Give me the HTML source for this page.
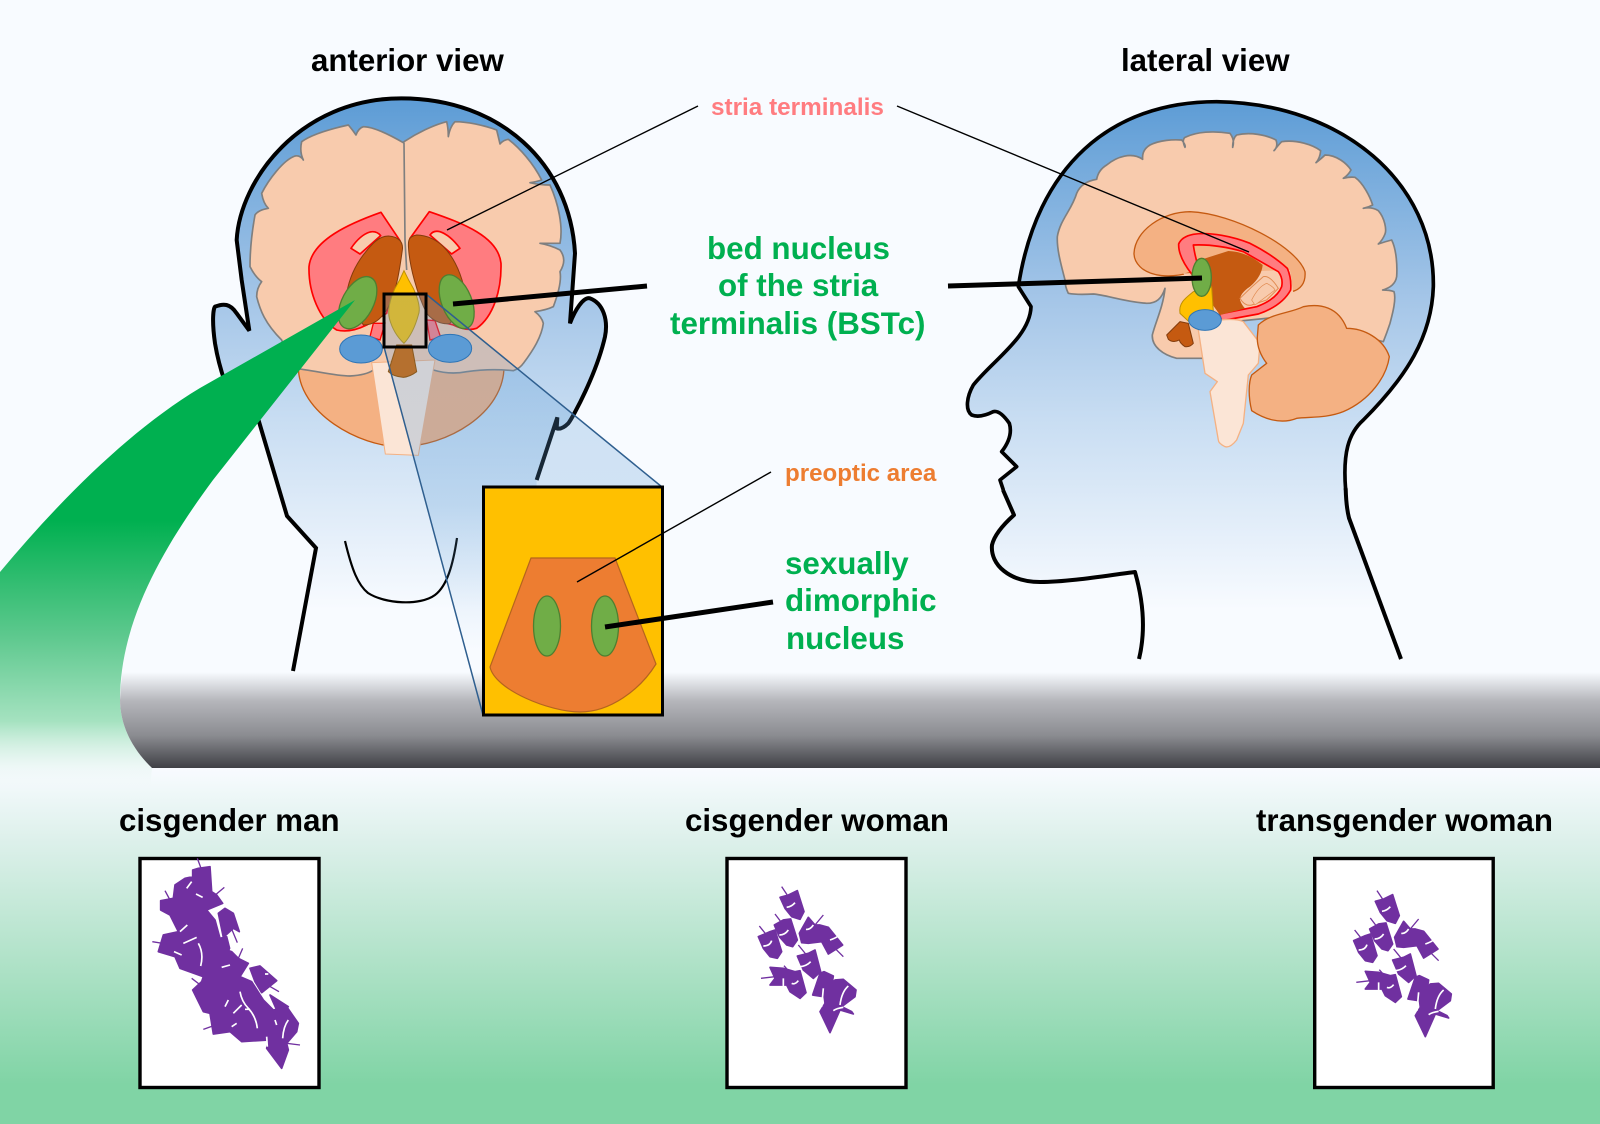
<!DOCTYPE html>
<html>
<head>
<meta charset="utf-8">
<style>
html,body{margin:0;padding:0;background:#f8fbff;}
svg{display:block;}
text{font-family:"Liberation Sans",Arial,sans-serif;font-weight:bold;}
.t{font-size:31.25px;fill:#000;}
.g{font-size:31.35px;fill:#00b050;}
</style>
</head>
<body>
<svg width="1600" height="1124" viewBox="0 0 1600 1124" xmlns="http://www.w3.org/2000/svg">
<defs>
<linearGradient id="bg" gradientUnits="userSpaceOnUse" x1="0" y1="0" x2="0" y2="1124">
<stop offset="0" stop-color="#f8fbff"/><stop offset=".684" stop-color="#f8fbff"/>
<stop offset=".75" stop-color="#dcf0ea"/><stop offset=".855" stop-color="#b0e2c8"/>
<stop offset=".965" stop-color="#80d4a5"/><stop offset="1" stop-color="#80d4a5"/>
</linearGradient>
<linearGradient id="headA" gradientUnits="userSpaceOnUse" x1="0" y1="45" x2="0" y2="1590">
<stop offset="0" stop-color="#5b9bd5"/><stop offset=".4" stop-color="#a5c6e8"/>
<stop offset=".63" stop-color="#c8ddf2"/><stop offset="1" stop-color="#f8fbff"/>
</linearGradient>
<linearGradient id="headL" gradientUnits="userSpaceOnUse" x1="0" y1="15" x2="0" y2="1560">
<stop offset="0" stop-color="#5b9bd5"/><stop offset=".4" stop-color="#a5c6e8"/>
<stop offset=".63" stop-color="#c8ddf2"/><stop offset="1" stop-color="#f8fbff"/>
</linearGradient>
<linearGradient id="band" gradientUnits="userSpaceOnUse" x1="0" y1="672" x2="0" y2="768">
<stop offset="0" stop-color="#f8fbff"/><stop offset=".3" stop-color="#b5b6bb"/>
<stop offset=".66" stop-color="#8b8c91"/><stop offset="1" stop-color="#3f4045"/>
</linearGradient>
<linearGradient id="swoosh" gradientUnits="userSpaceOnUse" x1="0" y1="300" x2="0" y2="790">
<stop offset="0" stop-color="#00b050"/><stop offset=".45" stop-color="#00b050"/>
<stop offset=".69" stop-color="#5fc98f"/><stop offset=".86" stop-color="#a5e2c0"/>
<stop offset="1" stop-color="#f0f9f6" stop-opacity="0"/>
</linearGradient>
<linearGradient id="ov" gradientUnits="userSpaceOnUse" x1="0" y1="290" x2="0" y2="650">
<stop offset="0" stop-color="#5b9bd5" stop-opacity=".28"/><stop offset=".6" stop-color="#5b9bd5" stop-opacity=".25"/>
<stop offset="1" stop-color="#5b9bd5" stop-opacity="0"/>
</linearGradient>
<g id="fem">
<g fill="#7030a0" stroke="#7030a0" stroke-width="5" stroke-linejoin="round">
<path d="M180 142 L205 135 L232 122 L252 185 L240 208 L215 200 L195 175Z"/>
<path d="M163 225 L190 210 L212 207 L232 270 L218 290 L200 285 L178 260Z"/>
<path d="M115 260 L150 245 L165 240 L185 305 L172 325 L150 320 L130 295Z"/>
<path d="M238 250 L265 202 L285 225 L300 225 L325 232 L368 285 L325 312 L305 275 L265 280 L245 278Z"/>
<path d="M232 318 L265 310 L285 300 L302 365 L280 385 L250 360Z"/>
<path d="M150 352 L190 355 L225 365 L240 362 L258 428 L240 445 L210 425 L200 405 L150 405 L165 385Z"/>
<path d="M278 435 L300 370 L312 365 L340 378 L335 410 L310 440Z"/>
<path d="M310 420 L345 390 L370 388 L408 420 L405 440 L365 470 L395 485 L400 492 L360 480 L330 548 L300 485 L315 460Z"/>
</g>
<g stroke="#7030a0" stroke-width="4" fill="none">
<path d="M185 110L205 140M165 192L190 225M118 228L145 262M310 195L285 225M325 275L370 320M235 285L262 318M123 385L165 380M192 347L205 362"/>
</g>
<g stroke="#fff" stroke-width="5" fill="none">
<path d="M200 172 Q215 170 225 158M178 255 Q195 255 205 240M130 288 Q150 288 155 272M258 238 Q270 240 280 225M330 270 Q345 265 355 258M240 350 Q260 348 272 335M190 408 L190 385M215 400 Q225 405 235 392M305 470 L310 415M360 465 Q365 425 385 408M340 482 Q350 475 370 472"/>
</g>
</g>
</defs>

<rect width="1600" height="1124" fill="url(#bg)"/>

<!-- anterior head -->
<g transform="translate(200,80) scale(.33333)">
<path fill="url(#headA)" d="M1010 1200 L1000 1650 L300 1650 L348 1404 L261 1308 L170 1005 Q160 1040 140 1030 C100 990 60 880 45 790 C35 720 40 685 45 680 C70 670 90 670 110 700 L148 752 L125 600 L110 480 C120 300 300 55 604 55 C900 55 1110 250 1125 520 L1110 730 C1125 690 1150 650 1170 655 C1210 670 1225 720 1215 770 C1190 880 1120 1010 1105 1030 Q1085 1050 1070 1045 L1072 1012Z"/>
<!-- cerebellum -->
<path fill="#f4b183" stroke="#c55a11" stroke-width="4" d="M295 860 C295 1000 480 1100 600 1100 C740 1100 912 1000 912 860Z"/>
<!-- brain -->
<path fill="#f8cbad" stroke="#7f7f7f" stroke-width="5" stroke-linejoin="round" d="M610 188 C570 165 520 140 490 140 Q475 145 468 165 Q458 150 445 135 C400 145 340 160 305 185 Q298 215 310 240 Q300 225 285 228 C250 240 205 300 185 340 Q190 370 205 385 Q175 390 165 405 C155 460 150 520 150 560 Q165 590 185 605 Q170 625 170 650 C180 690 195 730 245 780 C260 820 270 850 280 865 C340 870 400 888 450 888 Q500 885 520 870 L700 870 Q750 885 800 875 Q870 865 940 872 Q960 865 970 850 C1000 810 1025 770 1030 730 Q1025 710 1005 695 Q1040 690 1060 680 C1075 640 1085 600 1080 575 C1095 550 1095 530 1080 510 Q1050 495 1020 490 Q1060 490 1080 490 C1090 440 1075 370 1050 315 Q1020 315 990 308 Q1010 305 1025 300 C1000 250 960 205 925 178 Q910 180 900 192 Q895 170 890 150 C850 135 800 125 765 125 Q750 140 745 170 Q745 145 740 125 C700 135 650 160 612 185Z"/>
<path fill="none" stroke="#7f7f7f" stroke-width="5" d="M612 188 L615 480 L620 570"/>
<!-- brainstem -->
<path fill="#fbe5d6" stroke="#f4b183" stroke-width="3" d="M515 848 L705 840 L655 1126 L556 1122Z"/>
<!-- red -->
<path fill="#ff7c80" stroke="#ff0000" stroke-width="5" stroke-linejoin="round" d="M543 397 L600 482 L560 700 L500 735 Q450 760 410 750 C360 720 325 640 327 560 C335 480 450 430 543 397Z"/>
<path fill="#ff7c80" stroke="#ff0000" stroke-width="5" stroke-linejoin="round" d="M688 395 L630 475 L700 720 L760 735 Q800 755 830 745 C880 710 905 630 903 550 C895 470 790 430 688 395Z"/>
<path fill="#f8cbad" stroke="#ff0000" stroke-width="5" stroke-linejoin="round" d="M453 505 Q480 465 510 456 Q530 452 542 467 L480 522Z"/>
<path fill="#f8cbad" stroke="#ff0000" stroke-width="5" stroke-linejoin="round" d="M780 505 Q750 465 720 455 Q700 450 690 465 L755 522Z"/>
<path fill="#ff7c80" stroke="#ff0000" stroke-width="4" d="M520 730 L510 770 L540 780 L555 730Z"/>
<path fill="#ff7c80" stroke="#ff0000" stroke-width="4" d="M680 720 L690 780 L722 772 L705 722Z"/>
<!-- brown -->
<path fill="#c55a11" stroke="#843c0c" stroke-width="3" d="M565 468 C600 470 610 490 607 510 C600 560 590 640 560 690 C540 720 520 735 490 735 L440 640 C450 580 480 530 520 490 C535 475 550 468 565 468Z"/>
<path fill="#c55a11" stroke="#843c0c" stroke-width="3" d="M650 465 C620 470 625 490 626 510 C630 560 650 640 680 700 C700 725 730 735 750 730 L800 660 C790 600 770 540 730 500 C710 480 680 465 650 465Z"/>
<!-- yellow -->
<path fill="#ffc000" stroke="#bf9000" stroke-width="3" d="M612 572 Q625 600 640 625 Q665 680 655 705 Q640 760 612 790 Q580 760 568 715 Q560 680 585 625 Q600 600 612 572Z"/>
<!-- green left -->
<ellipse cx="473" cy="668" rx="47" ry="85" transform="rotate(28 473 668)" fill="#70ad47" stroke="#4f7f30" stroke-width="4"/>
<!-- blue left -->
<ellipse cx="483" cy="807" rx="64" ry="42" fill="#5b9bd5" stroke="#2e75b6" stroke-width="3"/>
<!-- head outline -->
<path fill="none" stroke="#000" stroke-width="12" stroke-linejoin="miter" d="M170 1005 Q160 1040 140 1030 C100 990 60 880 45 790 C35 720 40 685 45 680 C70 670 90 670 110 700 L148 752 L125 600 L110 480 C120 300 300 55 604 55 C900 55 1110 250 1125 520 L1110 730 C1125 690 1150 650 1170 655 C1210 670 1225 720 1215 770 C1190 880 1120 1010 1105 1030 Q1085 1050 1070 1045 L1072 1012 L1010 1200"/>
</g>
<path fill="none" stroke="#000" stroke-width="4" d="M257 415 L287 516 L316 548 L293 671"/>
<path fill="none" stroke="#000" stroke-width="2.2" d="M345 541 C352 570 358 585 368 593 C385 604 420 606 435 595 C447 586 453 565 457 538"/>

<!-- lateral head -->
<g transform="translate(950,90) scale(.33333)">
<path fill="url(#headL)" d="M205 590 C260 230 480 35 800 35 C1180 40 1455 280 1450 590 C1445 740 1370 860 1240 990 C1195 1030 1178 1090 1187 1200 L1197 1284 L1353 1707 L567 1707 C590 1620 580 1530 555 1446 C480 1455 360 1476 270 1476 C180 1476 120 1425 126 1365 Q135 1326 192 1275 L159 1200 L150 1170 L200 1130 L155 1085 Q190 1040 178 1000 Q150 960 130 965 Q90 985 65 975 C45 960 50 920 70 885 C130 810 240 740 243 650Z"/>
<!-- brain -->
<path fill="#f8cbad" stroke="#7f7f7f" stroke-width="5" stroke-linejoin="round" d="M440 268 Q445 240 470 225 C500 200 545 185 578 208 Q575 180 600 165 C630 150 670 148 695 150 Q708 165 705 172 Q695 150 705 142 C740 125 790 122 840 130 Q855 150 848 172 Q848 145 860 135 C900 125 950 135 978 150 Q985 170 972 182 Q985 165 995 155 C1040 148 1090 165 1112 182 Q1110 205 1098 218 Q1115 205 1125 195 C1160 195 1190 220 1203 240 Q1195 255 1180 265 Q1200 260 1215 262 C1240 280 1260 320 1268 345 Q1255 352 1240 355 Q1265 350 1285 362 C1305 385 1310 420 1305 432 Q1298 450 1285 462 Q1305 455 1325 450 C1340 480 1342 530 1340 560 Q1335 590 1298 600 Q1320 600 1332 605 C1340 630 1325 680 1320 700 Q1310 730 1300 755 L1000 680 L800 700 L760 805 L680 805 C640 795 605 770 607 735 C615 700 640 650 645 595 C635 625 620 640 590 640 C520 635 470 615 430 612 Q380 615 355 610 Q345 590 345 570 C335 530 320 480 322 440 C330 390 365 360 380 310 Q395 275 440 268Z"/>
<!-- cc -->
<path fill="#f4b183" stroke="#c55a11" stroke-width="4" stroke-linejoin="round" d="M552 490 C555 420 640 365 720 365 C850 370 1040 470 1065 545 C1068 580 1050 600 1025 605 L900 560 L720 548 C660 565 600 560 570 530 C555 515 552 500 552 490Z"/>
<path fill="#f8cbad" d="M700 550 L1020 540 L1030 610 L940 680 L800 690Z"/>
<!-- red C -->
<path fill="#ff7c80" stroke="#ff0000" stroke-width="5" stroke-linejoin="round" d="M686 462 Q695 440 730 433 C780 425 850 440 900 460 C950 485 990 515 1012 535 Q1025 565 1022 600 C1000 640 960 660 925 672 L815 692 L808 672 L920 650 C960 635 985 615 995 590 Q1000 565 985 545 L880 485 Q800 462 730 465 Q735 500 745 530 L725 552 C700 520 685 490 686 462Z"/>
<!-- thalamus -->
<path fill="#c55a11" d="M750 510 L835 483 Q890 485 938 525 Q935 560 900 590 Q870 610 870 630 Q875 645 885 655 L810 675 L785 640 L760 560Z"/>
<path fill="#f8cbad" stroke="#e08a50" stroke-width="3" d="M870 625 Q905 590 940 560 Q960 555 985 595 L950 630 L905 645 Q885 650 870 625Z"/>
<path fill="#f8cbad" stroke="#e08a50" stroke-width="2" d="M905 630 Q925 590 950 580 Q970 590 975 600 L915 645Z"/>
<!-- brainstem -->
<path fill="#fbe5d6" stroke="#f4b183" stroke-width="4" stroke-linejoin="round" d="M745 720 L810 690 Q860 685 880 695 L930 760 L925 820 L895 855 L880 1000 L860 1050 Q840 1075 825 1070 Q805 1060 805 1050 L780 905 L802 875 L765 850Z"/>
<!-- cerebellum -->
<path fill="#f4b183" stroke="#c55a11" stroke-width="4" stroke-linejoin="round" d="M925 705 C960 670 1020 670 1060 650 C1110 640 1165 650 1190 715 C1240 715 1300 745 1318 800 C1310 860 1260 930 1180 965 C1130 985 1080 980 1040 985 C990 1005 940 985 905 962 C895 920 895 880 905 855 L950 820 Q920 780 922 740Z"/>
<!-- yellow -->
<path fill="#ffc000" stroke="#bf9000" stroke-width="3" stroke-linejoin="round" d="M690 670 C685 640 705 625 730 605 L760 603 L785 590 L790 665 L720 698 Z"/>
<!-- small brown -->
<path fill="#c55a11" stroke="#843c0c" stroke-width="3" stroke-linejoin="round" d="M650 735 L690 695 L715 700 L730 760 Q720 772 705 770 Q690 760 688 750 Q670 760 655 748Z"/>
<!-- green, blue -->
<ellipse cx="755" cy="562" rx="29" ry="57" fill="#70ad47" stroke="#4f7f30" stroke-width="4"/>
<ellipse cx="765" cy="690" rx="49" ry="31" fill="#5b9bd5" stroke="#2e75b6" stroke-width="3"/>
<!-- outline -->
<path fill="none" stroke="#000" stroke-width="11" stroke-linejoin="round" d="M1187 1200 C1178 1090 1195 1030 1240 990 C1370 860 1445 740 1450 590 C1455 280 1180 40 800 35 C480 35 260 230 205 590 L243 650 C240 740 130 810 70 885 C50 920 45 960 65 975 Q90 985 130 965 Q150 960 178 1000 Q190 1040 155 1085 L200 1130 L150 1170 L160 1200"/>
</g>
<path fill="none" stroke="#000" stroke-width="4" stroke-linejoin="round" d="M1139 659 C1146 630 1143 600 1135 572 C1110 575 1070 582 1040 582 C1010 582 990 565 992 545 Q995 532 1014 515 L1003 490"/>
<path fill="none" stroke="#000" stroke-width="4" stroke-linecap="round" d="M1345.7 489 C1346 500 1347 510 1349 518"/>
<path fill="none" stroke="#000" stroke-width="4" d="M1349 518 L1401 659"/>

<!-- gray band + swoosh -->
<path fill="url(#swoosh)" d="M355 300 L200 388 C130 430 60 500 0 572 L0 790 L150 790 L152 768 C128 745 120 720 120 700 C120 620 165 545 213 480Z"/>
<path fill="url(#band)" d="M120 700 C120 720 128 745 152 768 L1600 768 L1600 672 L122.5 672 Q120.5 686 120 700Z"/>

<!-- overlay -->
<path d="M384 294 L426 294 L662 487 L483 715 L384 347Z" fill="url(#ov)"/>

<!-- parts above overlay -->
<g transform="translate(200,80) scale(.33333)">
<ellipse cx="770" cy="665" rx="45" ry="85" transform="rotate(-22 770 665)" fill="#70ad47" stroke="#4f7f30" stroke-width="4"/>
<path fill="#b5702f" stroke="#8a5a20" stroke-width="3" d="M590 795 L635 795 L650 875 Q630 890 610 892 Q580 890 565 875Z"/>
<ellipse cx="750" cy="805" rx="65" ry="42" fill="#5b9bd5" stroke="#2e75b6" stroke-width="3"/>
</g>

<path d="M426 294 L662 487 M384 347 L483 715" stroke="#2f5f8f" stroke-width="1.5" fill="none"/>
<rect x="384" y="294" width="42" height="53" fill="none" stroke="#000" stroke-width="3"/>

<!-- big box -->
<rect x="483.5" y="487" width="179" height="228" fill="#ffc000" stroke="#000" stroke-width="3"/>
<path d="M531 558 L615 558 L656 664 C640 690 610 712 580 712 C550 712 495 690 490 667Z" fill="#ed7d31" stroke="#b5651d" stroke-width="1.2"/>
<ellipse cx="547" cy="626" rx="13.5" ry="30" fill="#70ad47" stroke="#4f7f30" stroke-width="1.3"/>
<ellipse cx="605" cy="626" rx="13.5" ry="30" fill="#70ad47" stroke="#4f7f30" stroke-width="1.3"/>

<!-- leader lines -->
<g stroke="#000" fill="none">
<path stroke-width="1.4" d="M698 106 L447 230"/>
<path stroke-width="1.4" d="M897 106 L1249 252"/>
<path stroke-width="5" d="M647 286 L453 304"/>
<path stroke-width="5" d="M948 286 L1202 278"/>
<path stroke-width="1.4" d="M771 472 L577 582"/>
<path stroke-width="5" d="M773 602 L605 627"/>
</g>

<!-- labels -->
<text class="t" x="311" y="71">anterior view</text>
<text class="t" x="1121" y="71">lateral view</text>
<text x="711" y="115" font-size="24.3" fill="#ff7c80">stria terminalis</text>
<text class="g" x="707" y="259">bed nucleus</text>
<text class="g" x="718" y="296">of the stria</text>
<text class="g" x="670" y="334">terminalis (BSTc)</text>
<text x="785" y="481" font-size="24.1" fill="#ed7d31">preoptic area</text>
<text class="g" x="785" y="574">sexually</text>
<text class="g" x="785" y="611">dimorphic</text>
<text class="g" x="786" y="649">nucleus</text>
<text class="t" x="119" y="831">cisgender man</text>
<text class="t" x="685" y="831">cisgender woman</text>
<text class="t" x="1256" y="831">transgender woman</text>

<!-- micro boxes -->
<rect x="140" y="858.5" width="179" height="229" fill="#fff" stroke="#000" stroke-width="3.4"/>
<rect x="727" y="858.5" width="179" height="229" fill="#fff" stroke="#000" stroke-width="3.4"/>
<rect x="1314.7" y="858.5" width="178.5" height="229" fill="#fff" stroke="#000" stroke-width="3.4"/>

<g transform="translate(130,850) scale(.33333)">
<path fill="#7030a0" stroke="#7030a0" stroke-width="5" stroke-linejoin="round" d="M188 60 L205 55 L240 50 L245 125 L260 135 L278 160 L230 180 L255 210 L270 265 L290 260 L300 300 L325 325 L355 340 L330 380 L365 395 L400 450 L430 480 L470 470 L505 520 L500 545 L470 580 L475 600 L455 655 L410 595 L415 570 L335 575 L300 545 L250 552 L240 490 L220 485 L188 420 L215 395 L220 380 L150 355 L135 320 L85 305 L100 255 L145 245 L120 195 L92 180 L92 152 L130 145 L135 105 L165 85 L188 80Z"/>
<path fill="#7030a0" stroke="#7030a0" stroke-width="5" stroke-linejoin="round" d="M265 190 L285 175 L310 190 L328 245 L310 235 L280 262Z"/>
<path fill="#7030a0" stroke="#7030a0" stroke-width="5" stroke-linejoin="round" d="M360 355 L390 348 L440 392 L395 428 L375 395Z"/>
<path fill="#7030a0" stroke="#7030a0" stroke-width="5" stroke-linejoin="round" d="M420 435 L475 470 L440 480Z"/>
<path stroke="#7030a0" stroke-width="4" fill="none" d="M202 25L215 60M283 112L250 140M105 122L120 150M67 275L110 282M300 225L322 278M338 295L325 325M185 385L215 408M395 395L447 425M220 538L270 520M455 578L510 585"/>
<path stroke="#fff" stroke-width="5" fill="none" d="M205 280 Q222 310 212 348M330 425 Q335 455 355 475 Q378 500 382 535M475 510 Q460 530 458 565M410 560 L412 590M198 132 L218 142M170 115 L185 95M150 245 L172 225M160 280 L200 262M275 352 L300 345M300 298 L312 302M405 372 L415 372M132 305 L155 315M310 490 L335 465M435 510 L440 525M285 470 L295 450M305 530 L320 520M345 478 L360 478"/>
</g>
<g transform="translate(720,850) scale(.33333)"><use href="#fem"/></g>
<g transform="translate(1315.3,854) scale(.33333)"><use href="#fem"/></g>
</svg>
</body>
</html>
